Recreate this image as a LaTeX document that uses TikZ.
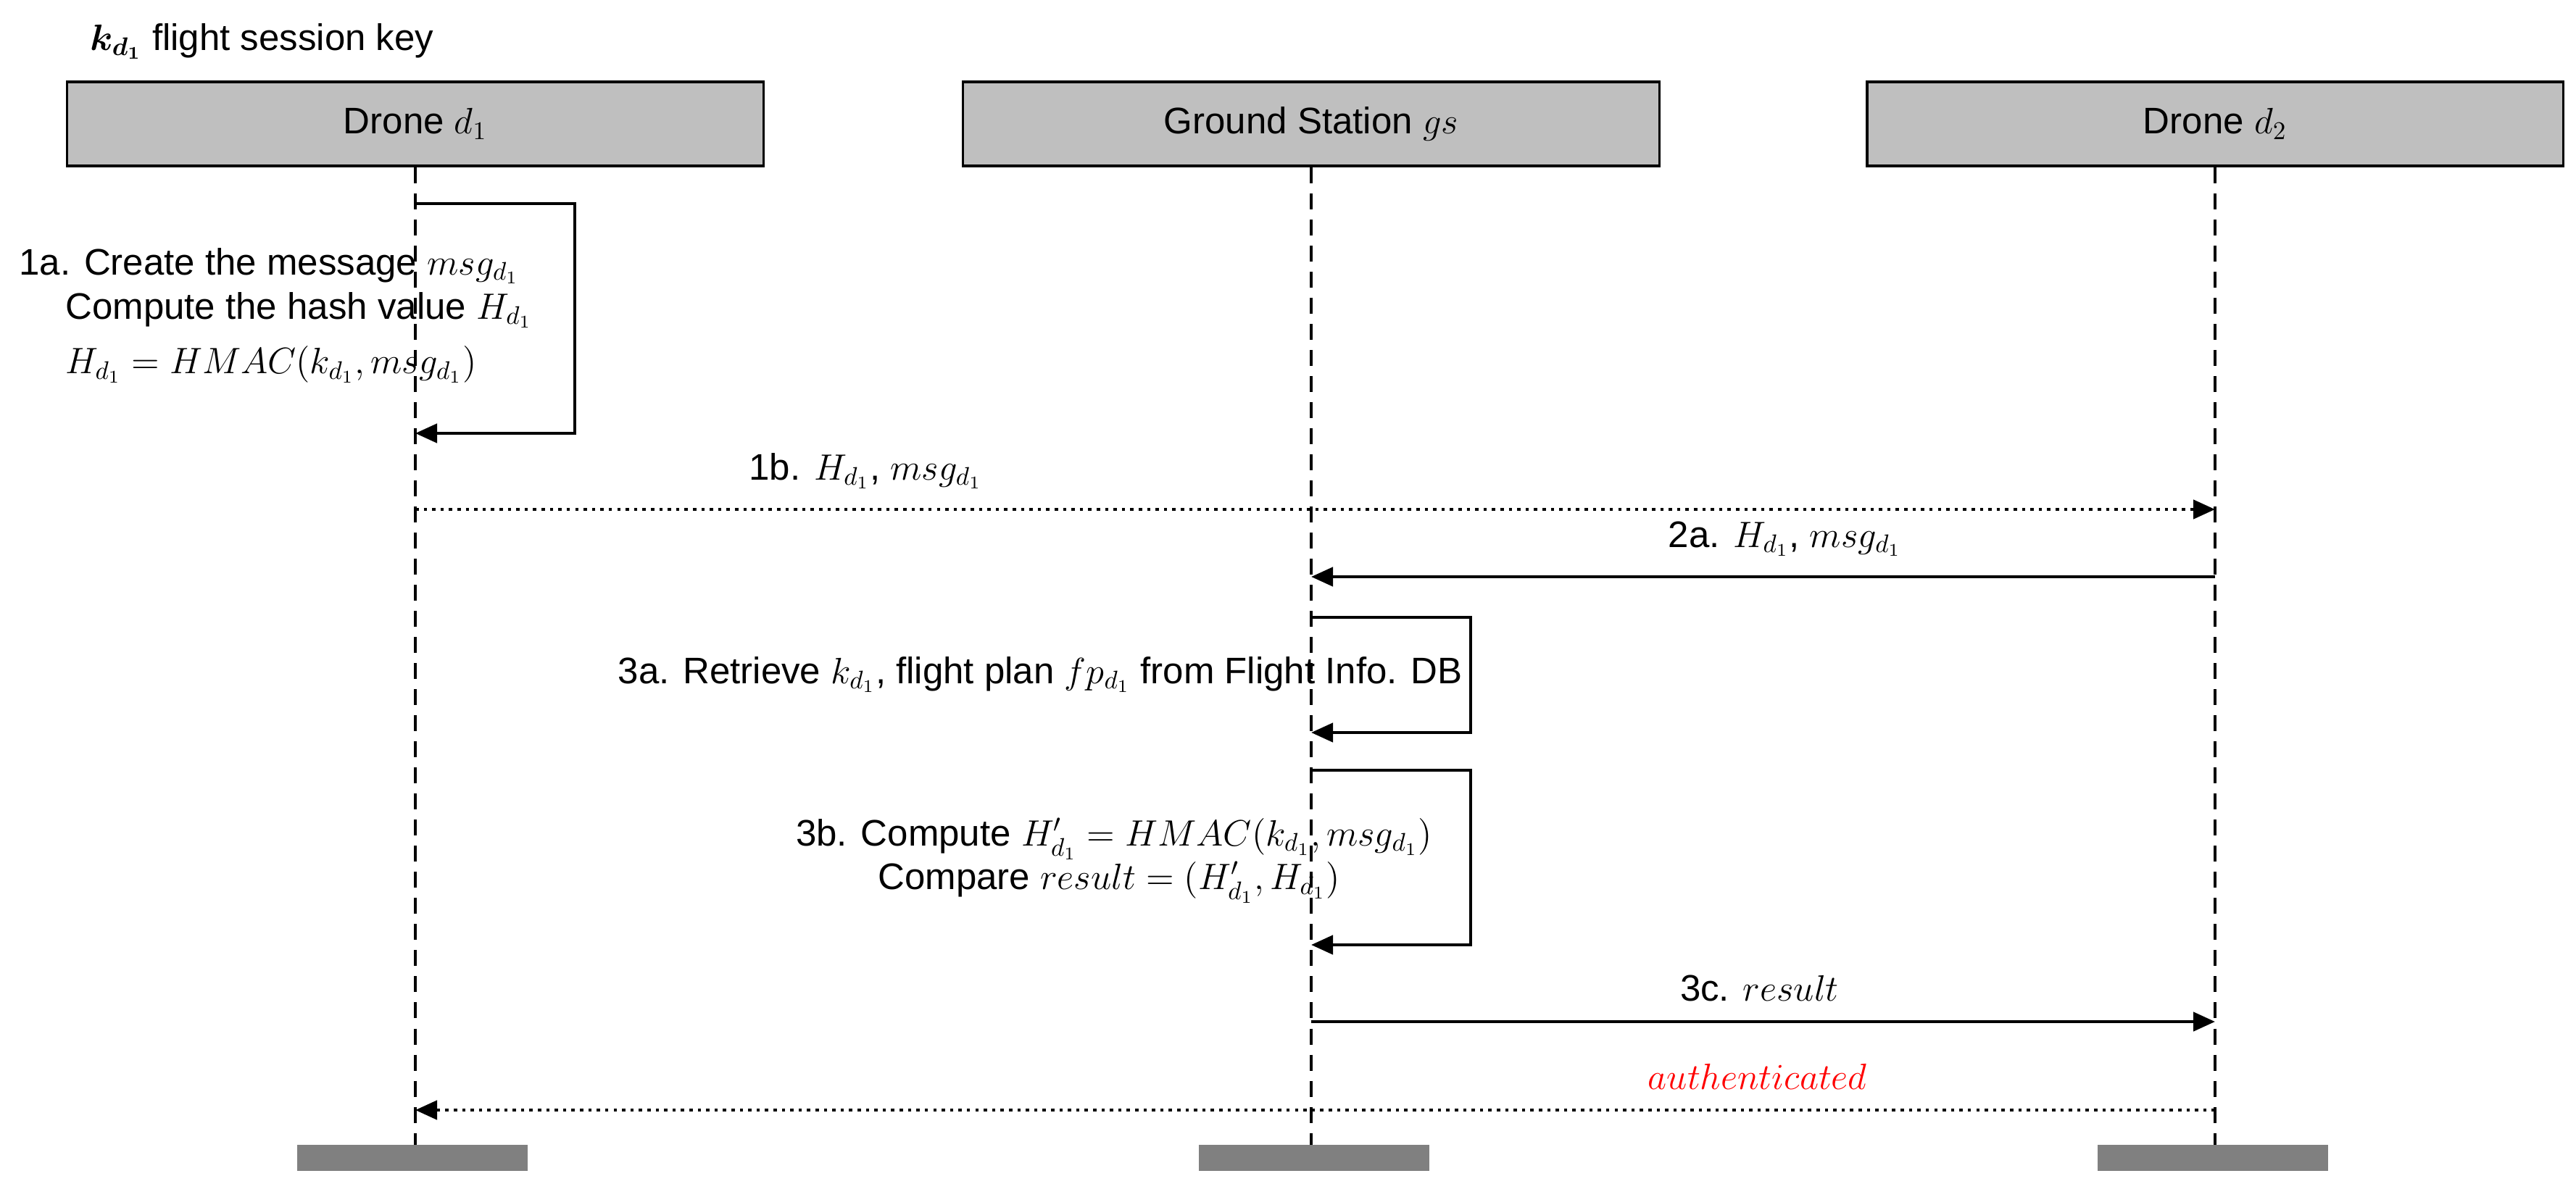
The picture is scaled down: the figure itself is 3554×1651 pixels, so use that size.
\documentclass[tikz,border=0pt]{standalone}
\usepackage{amsmath,bm}
\usepackage{fontspec}
\setmainfont{Liberation Sans}
\usetikzlibrary{arrows.meta}
\begin{document}
\begin{tikzpicture}[x=0.01cm,y=-0.01cm,
  every node/.style={font=\fontsize{14.5}{18}\selectfont},
  actor/.style={draw,line width=1pt,fill=black!25,minimum width=9.6cm,minimum height=1.16cm,inner sep=0pt},
  life/.style={line width=1.1pt,dash pattern=on 0.22cm off 0.14cm},
  msg/.style={line width=1.3pt,-{Triangle[length=0.3cm,width=0.26cm]}},
  dmsg/.style={line width=1.3pt,dotted,-{Triangle[length=0.3cm,width=0.26cm]}},
  bar/.style={fill=black!50,minimum width=3.18cm,minimum height=0.36cm,inner sep=0pt}]
\useasboundingbox (0,0) rectangle (3554,1651);
\node[anchor=west] (title) at (112,57) {$\bm{k}_{\bm{d_1}}$ flight session key};
\node[actor] (A) at (573,171) {Drone $d_1$};
\node[actor] (G) at (1809,171) {Ground Station $gs$};
\node[actor] (B) at (3056,171) {Drone $d_2$};
\node[bar] (Ab) at (569,1598) {};
\node[bar] (Gb) at (1813,1598) {};
\node[bar] (Bb) at (3053,1598) {};
\draw[life] (A.south) -- (573,1580);
\draw[life] (G.south) -- (1809,1580);
\draw[life] (B.south) -- (3056,1580);
% 1a
\coordinate (a1) at (573,281); \coordinate (a2) at (573,598);
\draw[msg] (a1) -- (793,281) -- (793,598) -- (a2);
\node[anchor=west] (t1a) at (14,367) {1a. Create the message $msg_{d_1}$};
\node[anchor=west] (t1b) at (78,428) {Compute the hash value $H_{d_1}$};
\node[anchor=west] (t1c) at (78,503) {$H_{d_1}=HMAC(k_{d_1},msg_{d_1})$};
% 1b
\coordinate (b1) at (573,703); \coordinate (b2) at (3056,703);
\draw[dmsg] (b1) -- node[above=4pt,xshift=-6.2cm] (l1b) {1b. $H_{d_1}$, $msg_{d_1}$} (b2);
% 2a
\coordinate (c1) at (3056,796); \coordinate (c2) at (1809,796);
\draw[msg] (c1) -- node[above=4pt,xshift=0.3cm] (l2a) {2a. $H_{d_1}$, $msg_{d_1}$} (c2);
% 3a
\coordinate (d1) at (1809,852); \coordinate (d2) at (1809,1011);
\draw[msg] (d1) -- (2029,852) -- (2029,1011) -- (d2);
\node[anchor=east] (t3a) at (2030,931) {3a. Retrieve $k_{d_1}$, flight plan $fp_{d_1}$ from Flight Info. DB};
% 3b
\coordinate (e1) at (1809,1063); \coordinate (e2) at (1809,1304);
\draw[msg] (e1) -- (2029,1063) -- (2029,1304) -- (e2);
\node (t3b) at (1537,1158) {3b. Compute $H'_{d_1}=HMAC(k_{d_1},msg_{d_1})$};
\node (t3c) at (1530,1218) {Compare $result=(H'_{d_1},H_{d_1})$};
% 3c
\coordinate (f1) at (1809,1410); \coordinate (f2) at (3056,1410);
\draw[msg] (f1) -- node[above=4pt,xshift=-0.05cm] (l3c) {3c. $result$} (f2);
% authenticated
\coordinate (g1) at (3056,1532); \coordinate (g2) at (573,1532);
\draw[dmsg] (g1) -- node[above=4pt,xshift=6.1cm,text=red] (lau) {$authenticated$} (g2);
\end{tikzpicture}
\end{document}
